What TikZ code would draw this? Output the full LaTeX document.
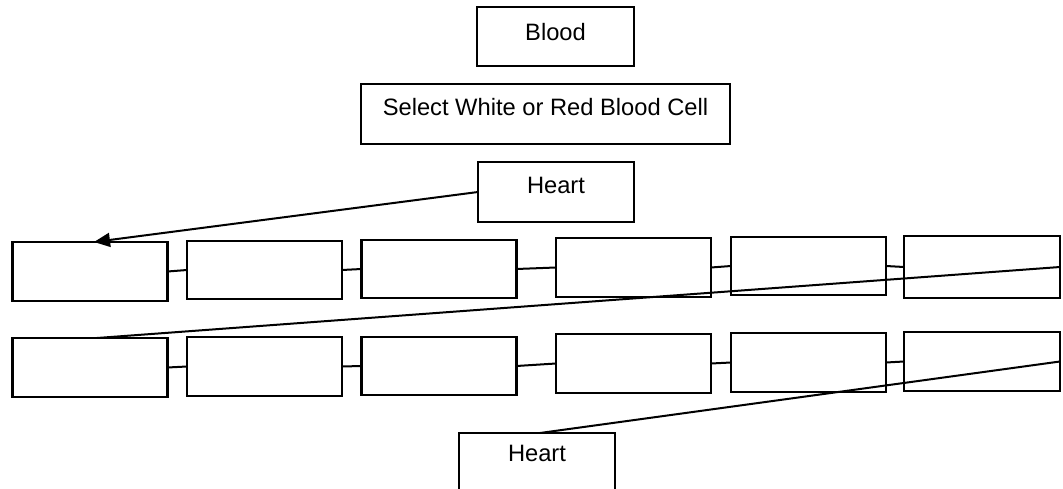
\documentclass[tikz,border=0pt]{standalone}
\usepackage{fontspec}
\setmainfont{Liberation Sans}
\usetikzlibrary{arrows.meta}

\begin{document}
\begin{tikzpicture}[x=1pt,y=-1pt,
  line width=2.2pt,
  cellbox/.style={draw, rectangle, inner sep=0pt, outer sep=0pt,
    minimum width=155pt, minimum height=58pt},
  titlebox/.style={draw, rectangle, inner sep=0pt, outer sep=0pt,
    font=\fontsize{23.7}{26}\selectfont, text height=17pt},
  link/.style={draw, line width=2pt}
]
\useasboundingbox (0,0) rectangle (1063,489);
\clip (0,0) rectangle (1063,489);
\fill[white] (0,0) rectangle (1063,489);

% headings
\node[titlebox, minimum width=157pt, minimum height=59pt, text depth=9pt]
  (blood) at (555.5,36.5) {Blood};
\node[titlebox, minimum width=369pt, minimum height=60pt, text depth=14pt]
  (select) at (545.5,114) {Select White or Red Blood Cell};
\node[titlebox, minimum width=156pt, minimum height=60pt, text depth=14pt]
  (hearttop) at (556,192) {Heart};
\node[titlebox, minimum width=156pt, minimum height=60pt, text depth=20pt]
  (heartbot) at (537,463) {Heart};

% first row of cells
\node[cellbox, minimum height=59pt] (a1) at (90,271.5) {};
\node[cellbox] (a2) at (264.5,270) {};
\node[cellbox] (a3) at (439,269) {};
\node[cellbox, minimum height=59pt] (a4) at (633.5,267.5) {};
\node[cellbox] (a5) at (808.5,266) {};
\node[cellbox, minimum width=156pt, minimum height=62pt] (a6) at (982,267) {};

% second row of cells
\node[cellbox, minimum height=59pt] (b1) at (90,367.5) {};
\node[cellbox, minimum height=59pt] (b2) at (264.5,366.5) {};
\node[cellbox] (b3) at (439,366) {};
\node[cellbox, minimum height=59pt] (b4) at (633.5,363.5) {};
\node[cellbox, minimum height=59pt] (b5) at (808.5,362.5) {};
\node[cellbox, minimum width=156pt, minimum height=59pt] (b6) at (982,361.5) {};

% chain links
\foreach \p/\q in {a1/a2,a2/a3,a3/a4,a4/a5,a5/a6,b1/b2,b2/b3,b3/b4,b4/b5,b5/b6}
  \draw[link] (\p.east) -- (\q.west);

% flow between rows
\draw[link, -{Triangle[length=16pt,width=14pt]}]
  (hearttop.west) -- ([xshift=4pt]a1.north);
\draw[link] (a6.east) -- ([xshift=7pt]b1.north);
\draw[link] (b6.east) -- ([xshift=3pt]heartbot.north);
\end{tikzpicture}
\end{document}
